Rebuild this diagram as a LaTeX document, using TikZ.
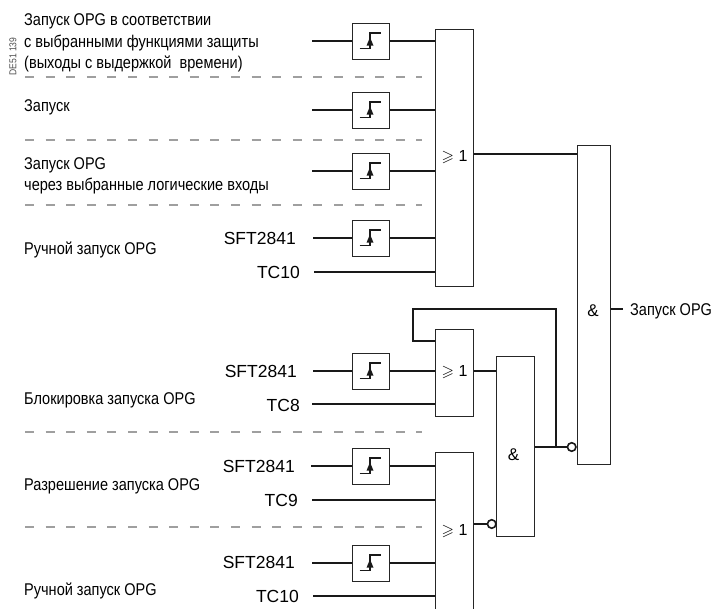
\documentclass[tikz,border=0pt]{standalone}
\usepackage{amssymb}
\usepackage{fontspec}
\setmainfont{Liberation Sans}
\newfontfamily\narrowfont[FakeStretch=0.855]{Liberation Sans}
\usetikzlibrary{positioning,calc}

\tikzset{
    box/.style={draw=black!85, line width=1pt, fill=white, inner sep=0pt},
    gate/.style={box, minimum width=38pt, font=\fontsize{16}{20}\selectfont},
    latch/.style={box, minimum width=37pt, minimum height=36pt},
    wire/.style={line width=2.2pt, black!90},
    notc/.style={circle, draw=black!90, line width=1.6pt, fill=white, inner sep=0pt, minimum size=8.5pt},
    sep/.style={gray!75, line width=1.1pt, dash pattern=on 9pt off 11.6pt},
    lab/.style={anchor=west, inner sep=0pt, align=left, font=\narrowfont\fontsize{17}{21.5}\selectfont},
    sig/.style={anchor=east, inner sep=0pt, font=\fontsize{17.5}{20}\selectfont},
    sym/.style={inner sep=0pt, font=\fontsize{17}{20}\selectfont}
}

\begin{document}
\begin{tikzpicture}[x=1pt, y=-1pt]
    \useasboundingbox (0, 0) rectangle (712, 608);

    % Separators
    \foreach \y [count=\i] in {77, 140, 205, 432, 527} {
        \coordinate (sepL\i) at (25, \y);
        \coordinate (sepR\i) at (422, \y);
        \draw[sep] (sepL\i) -- (sepR\i);
    }

    % Gates
    \node[gate, minimum height=257pt] (orA) at (454.5, 157.5) {$\geqslant$ 1};
    \node[gate, minimum height=87pt] (orB) at (454.5, 372.5) {$\geqslant$ 1};
    \node[gate, minimum height=158pt] (orC) at (454.5, 531) {$\geqslant$ 1};
    \node[gate, minimum height=180pt] (andB) at (515, 446) {};
    \node[gate, minimum width=33pt, minimum height=319pt] (andA) at (593.5, 304.5) {};
    \node[sym] (ampB) at (513.5, 455) {\&};
    \node[sym] (ampA) at (593, 311) {\&};

    % Edge detectors and their inputs
    \foreach \name/\y/\gate/\x in {a/41/orA/312, b/110/orA/312, c/171/orA/312, d/238/orA/313,
                                   e/371/orB/313, f/466/orC/311, g/563/orC/312} {
        \node[latch] (lt\name) at (370.5, \y) {};
        \coordinate (in\name) at (\x, \y);
        \draw[wire] (in\name) -- (lt\name.west);
        \draw[wire] (lt\name.east) -- (lt\name.east -| \gate.west);
        \draw[line width=1.1pt, black!90] ($(lt\name)+(-11, 7.3)$) -- ++(10.5, 0) -- ++(0, -15.3) -- ++(10.5, 0);
        \fill[black!90] ($(lt\name)+(-0.5, -3.7)$) -- ++(3.5, 8.4) -- ++(-7, 0) -- cycle;
    }

    % Plain inputs
    \foreach \name/\x/\y/\gate in {ta/314/272/orA, tb/312/404/orB, tc/312/500/orC, td/313/596/orC} {
        \coordinate (in\name) at (\x, \y);
        \draw[wire] (in\name) -- (in\name -| \gate.west);
    }

    % Signal names
    \node[sig] (sftA) at (296, 238.5) {SFT2841};
    \node[sig] (tcA) at (300, 272.5) {TC10};
    \node[sig] (sftB) at (297, 371.5) {SFT2841};
    \node[sig] (tcB) at (300, 405.5) {TC8};
    \node[sig] (sftC) at (295, 466.5) {SFT2841};
    \node[sig] (tcC) at (298, 500.5) {TC9};
    \node[sig] (sftD) at (295, 562.5) {SFT2841};
    \node[sig] (tcD) at (299, 596.5) {TC10};

    % Left column
    \node[lab] (txtA) at (24, 43) {Запуск OPG в соответствии\\с выбранными функциями защиты\\(выходы с выдержкой\ \ времени)};
    \node[lab] (txtB) at (24, 107) {Запуск};
    \node[lab] (txtC) at (24, 176) {Запуск OPG\\через выбранные логические входы};
    \node[lab] (txtD) at (24, 250) {Ручной запуск OPG};
    \node[lab] (txtE) at (24, 400) {Блокировка запуска OPG};
    \node[lab] (txtF) at (24, 486) {Разрешение запуска OPG};
    \node[lab] (txtG) at (24, 591) {Ручной запуск OPG};
    \node[rotate=90, inner sep=0pt, text=black!70, font=\narrowfont\fontsize{10}{10}\selectfont] (ref) at (13, 56.5) {DE51 139};

    % Links between gates
    \coordinate (orAout) at (474, 154);
    \draw[wire] (orAout) -- (orAout -| andA.west);
    \coordinate (orBout) at (474, 371);
    \draw[wire] (orBout) -- (orBout -| andB.west);
    \node[notc] (notB) at (491.7, 524) {};
    \draw[wire] (orC.east |- notB) -- (notB);
    \node[notc] (notA) at (571.7, 447) {};
    \draw[wire] (andB.east |- notA) -- (notA);

    % Feedback
    \coordinate (fbkS) at (556, 447);
    \coordinate (fbkA) at (556, 309);
    \coordinate (fbkB) at (413, 309);
    \coordinate (fbkC) at (413, 341);
    \draw[wire, line width=2.6pt] (fbkS) -- (fbkA) -- (fbkB) -- (fbkC) -- (fbkC -| orB.west);

    % Output
    \node[lab] (txtOut) at (630, 311) {Запуск OPG};
    \coordinate (outEnd) at (623, 309);
    \draw[wire] (outEnd -| andA.east) -- (outEnd);
\end{tikzpicture}
\end{document}
